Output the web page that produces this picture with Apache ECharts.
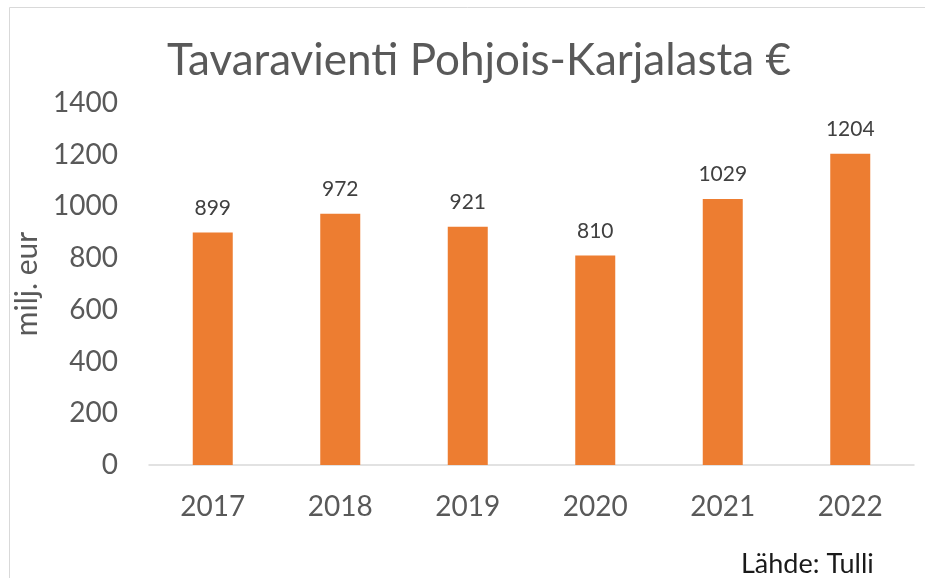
<!DOCTYPE html>
<html><head><meta charset="utf-8">
<script src="https://cdn.jsdelivr.net/npm/echarts@6/dist/echarts.min.js"></script>
<style>html,body{margin:0;padding:0;background:#fff}#c{width:925px;height:578px}</style>
</head><body><div id="c"></div>
<script>
const categories = ['2017','2018','2019','2020','2021','2022'];
const values = [899, 972, 921, 810, 1029, 1204];
const titleText = 'Tavaravienti Pohjois-Karjalasta €';
const yName = 'milj. eur';
const sourceText = 'Lähde: Tulli';
const FONT = 'Lato';
const chart = echarts.init(document.getElementById('c'));
chart.setOption({
  animation: false,
  backgroundColor: '#fff',
  title: { text: titleText, left: 474, textAlign: 'center', top: 34,
    textStyle: { fontFamily: FONT, fontSize: 44, fontWeight: 'normal', color: '#595959' } },
  graphic: [
    { type: 'rect', shape: { x: 9.5, y: 7.5, width: 1000, height: 1000 }, style: { fill: 'none', stroke: '#d9d9d9', lineWidth: 1 }, silent: true },
    { type: 'text', left: 741, top: 551, style: { text: sourceText, font: '27px ' + FONT, fill: '#1a1a1a' } }
  ],
  grid: { left: 149, right: 11, top: 103, bottom: 113, containLabel: false },
  xAxis: { type: 'category', data: categories,
    axisLine: { lineStyle: { color: '#d9d9d9', width: 1.5 } }, axisTick: { show: false },
    axisLabel: { fontFamily: FONT, fontSize: 28, color: '#595959', margin: 28 } },
  yAxis: { type: 'value', min: 0, max: 1400, interval: 200,
    name: yName, nameLocation: 'middle', nameGap: 89, nameRotate: 90,
    nameTextStyle: { fontFamily: FONT, fontSize: 30, color: '#595959' },
    axisLine: { show: false }, axisTick: { show: false }, splitLine: { show: false },
    axisLabel: { fontFamily: FONT, fontSize: 28, color: '#595959', margin: 31, formatter: v => String(v) } },
  series: [{ type: 'bar', data: values, barWidth: 40,
    itemStyle: { color: '#ED7D31' },
    label: { show: true, position: 'top', distance: 14, fontFamily: FONT, fontSize: 21, color: '#404040' } }]
});
</script></body></html>
